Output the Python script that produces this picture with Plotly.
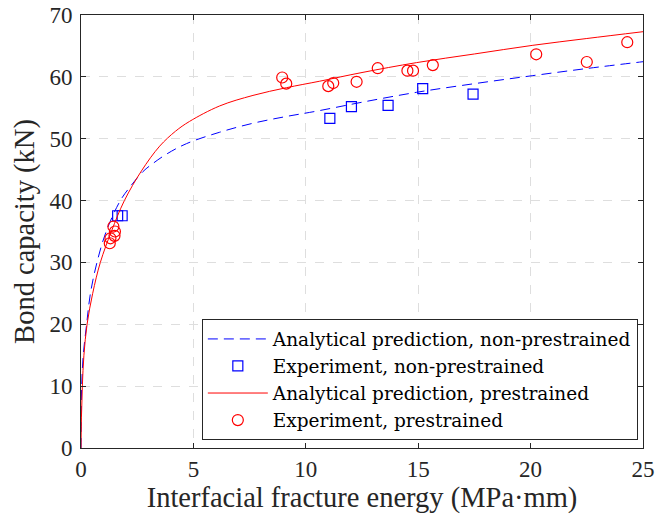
import plotly.graph_objects as go

# Analytical prediction curves
pred_non_x = [0, 0.01, 0.03, 0.1, 0.25, 0.42, 0.71, 1.12, 1.75, 2.2, 2.76, 3.2, 3.8, 4.69, 6.17, 7.65, 9.14, 10.47, 12.5, 14.92, 17.5, 20.1, 22.5, 25]
pred_non_y = [0, 5, 10, 15, 20, 25, 30, 35, 40, 42.3, 44.7, 46.0, 47.5, 49.2, 51.05, 52.5, 53.6, 54.45, 55.9, 57.5, 58.9, 60.2, 61.35, 62.45]

pred_pre_x = [0, 0.02, 0.06, 0.13, 0.27, 0.52, 0.86, 1.35, 1.93, 2.69, 3.5, 4.2, 4.83, 6.17, 7.65, 9.14, 10.62, 12.5, 14.92, 17.5, 20.1, 22.5, 25]
pred_pre_y = [0, 5, 10, 15, 20, 25, 30, 35, 40, 44.8, 48.8, 51.2, 52.8, 55.3, 57.0, 58.25, 59.3, 60.7, 62.3, 63.7, 65.1, 66.2, 67.3]

# Experiments
exp_non_x = [1.63, 1.83, 11.07, 12.03, 13.66, 15.2, 17.44]
exp_non_y = [37.55, 37.55, 53.3, 55.2, 55.4, 58.1, 57.2]

exp_pre_x = [1.28, 1.31, 1.44, 1.49, 1.51, 8.95, 9.13, 11.0, 11.22, 12.26, 13.2, 14.52, 14.77, 15.65, 20.25, 22.5, 24.3]
exp_pre_y = [33.1, 33.9, 35.8, 34.3, 35.0, 59.9, 58.9, 58.5, 59.0, 59.2, 61.4, 61.0, 61.0, 61.9, 63.65, 62.4, 65.6]

FONT = "Liberation Serif"
LEG_FONT = "DejaVu Serif"
TXT = "#262626"

fig = go.Figure()
fig.add_trace(go.Scatter(x=pred_non_x, y=pred_non_y, mode="lines", line_shape="spline",
                         line=dict(color="#0000ff", width=1, dash="10px,6px"),
                         name="Analytical prediction, non-prestrained"))
fig.add_trace(go.Scatter(x=exp_non_x, y=exp_non_y, mode="markers",
                         marker=dict(symbol="square-open", size=10, color="#0000ff", line=dict(width=1.2)),
                         name="Experiment, non-prestrained"))
fig.add_trace(go.Scatter(x=pred_pre_x, y=pred_pre_y, mode="lines", line_shape="spline",
                         line=dict(color="#ff0000", width=1),
                         name="Analytical prediction, prestrained"))
fig.add_trace(go.Scatter(x=exp_pre_x, y=exp_pre_y, mode="markers",
                         marker=dict(symbol="circle-open", size=11, color="#ff0000", line=dict(width=1.2)),
                         name="Experiment, prestrained"))

axis_common = dict(showline=True, linecolor=TXT, linewidth=1, mirror="ticks",
                   ticks="inside", ticklen=5, tickcolor=TXT, automargin=False,
                   showgrid=True, gridcolor="#dedede", griddash="dash", gridwidth=1,
                   zeroline=False, tickfont=dict(family=FONT, size=23, color=TXT))

fig.update_xaxes(range=[0, 25], dtick=5, tick0=0,
                 title=dict(text="Interfacial fracture energy (MPa·mm)", font=dict(family=FONT, size=28.5, color=TXT), standoff=4),
                 **axis_common)
fig.update_yaxes(range=[0, 70], dtick=10, tick0=0, ticklabelstandoff=3,
                 title=dict(text="Bond capacity (kN)", font=dict(family=FONT, size=28.5, color=TXT), standoff=6),
                 **axis_common)

fig.update_layout(
    width=655, height=520,
    margin=dict(l=81, r=12, t=15, b=72, autoexpand=False),
    paper_bgcolor="white", plot_bgcolor="white",
    font=dict(family=FONT, color=TXT),
    showlegend=True,
    legend=dict(x=0.215, y=0.297, xanchor="left", yanchor="top",
                bgcolor="white", bordercolor=TXT, borderwidth=1,
                font=dict(family=LEG_FONT, size=18.5, color="black"),
                itemwidth=60, tracegroupgap=0),
)

fig.write_html("out.html", config={"displayModeBar": False},
               post_script="document.body.style.margin='0';")
